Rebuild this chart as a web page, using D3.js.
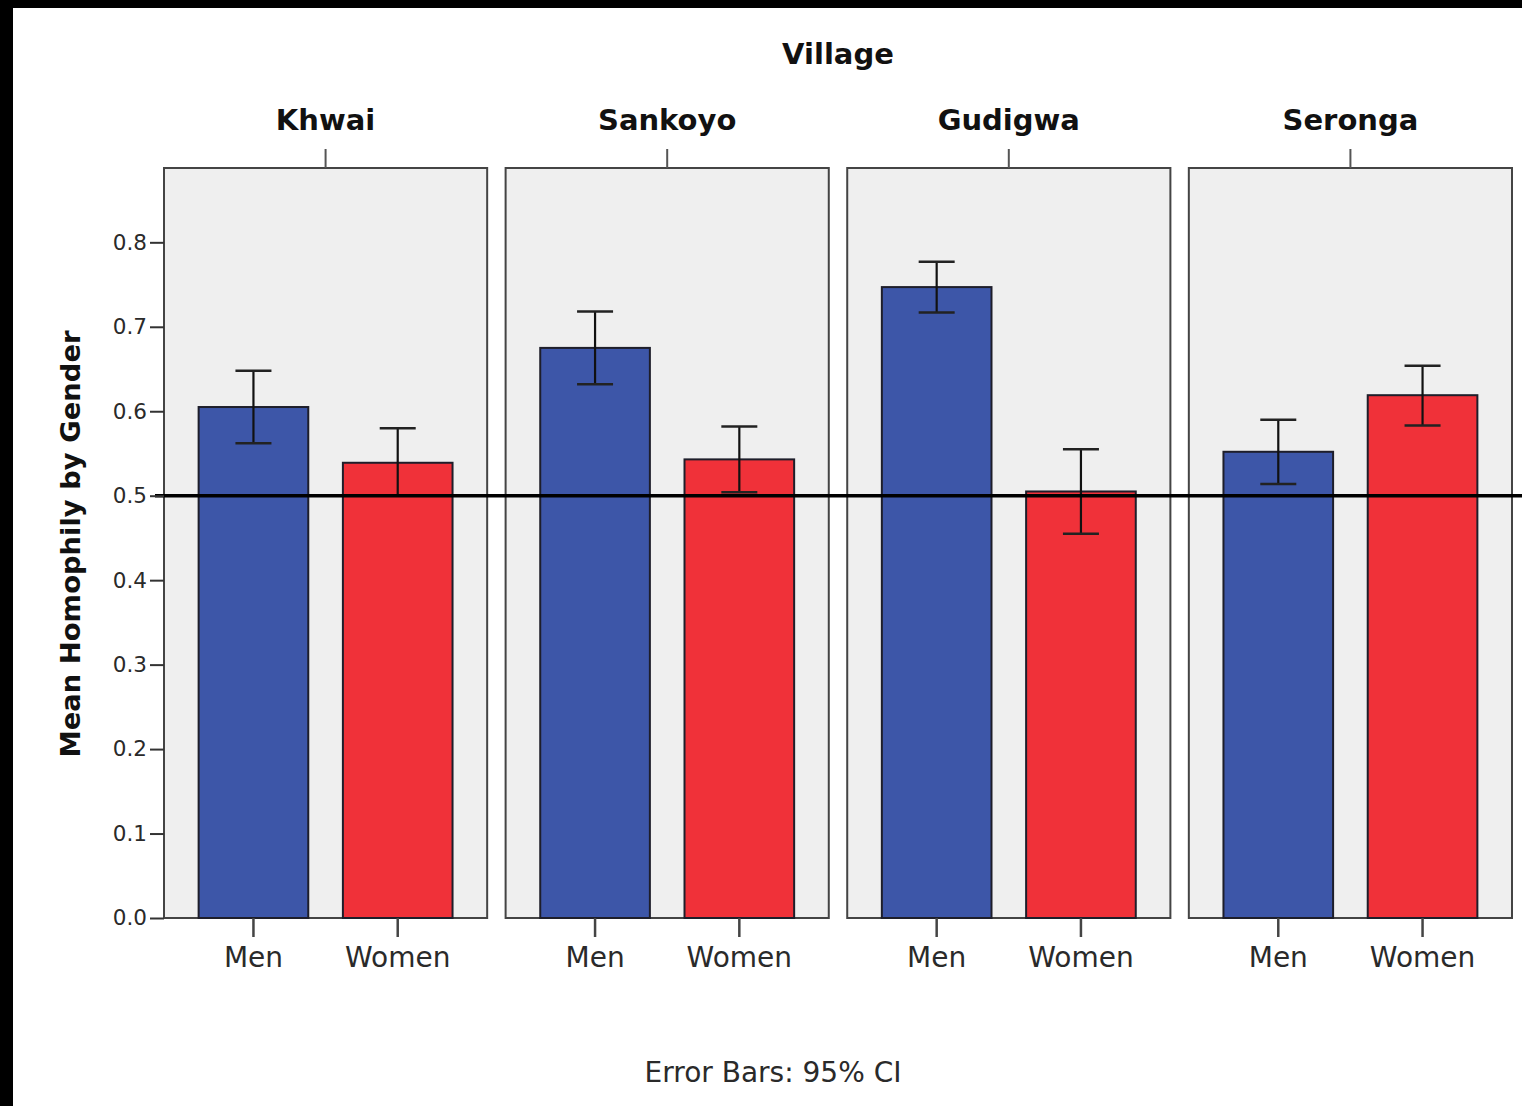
<!DOCTYPE html>
<html>
<head>
<meta charset="utf-8">
<script src="https://cdn.jsdelivr.net/npm/d3@7"></script>
<style>
  html, body { margin: 0; padding: 0; background: #fff; }
  svg { display: block; }
</style>
</head>
<body>
<svg id="chart" width="1522" height="1106"></svg>
<script>
// Mean homophily by gender, faceted by village, with 95% CI error bars
const villages = ["Khwai", "Sankoyo", "Gudigwa", "Seronga"];
const genders = ["Men", "Women"];
const menMean    = [0.605, 0.675, 0.747, 0.552];
const menLow     = [0.562, 0.632, 0.717, 0.514];
const menHigh    = [0.648, 0.718, 0.777, 0.590];
const womenMean  = [0.539, 0.543, 0.505, 0.619];
const womenLow   = [0.500, 0.504, 0.455, 0.583];
const womenHigh  = [0.580, 0.582, 0.555, 0.654];
const yTicks = [0.0, 0.1, 0.2, 0.3, 0.4, 0.5, 0.6, 0.7, 0.8];
const yMax = 0.888;
const referenceValue = 0.5;
const colors = { Men: "#3d56a8", Women: "#f03139" };

const rows = [];
villages.forEach((v, i) => {
  rows.push({ village: v, gender: "Men", mean: menMean[i], lo: menLow[i], hi: menHigh[i] });
  rows.push({ village: v, gender: "Women", mean: womenMean[i], lo: womenLow[i], hi: womenHigh[i] });
});

const svg = d3.select("#chart");
const font = "'DejaVu Sans', Verdana, sans-serif";

const y = d3.scaleLinear().domain([0, yMax]).range([918, 168]);
const fx = d3.scaleBand().domain(villages).range([164, 1512]).paddingInner(0.054).paddingOuter(0);
const x = d3.scaleBand().domain(genders).range([0, fx.bandwidth()]).paddingInner(0.24).paddingOuter(0.24);

// frame edges
svg.append("rect").attr("x", 0).attr("y", 0).attr("width", 1522).attr("height", 8).attr("fill", "#000");
svg.append("rect").attr("x", 0).attr("y", 0).attr("width", 13).attr("height", 1106).attr("fill", "#000");

// overall facet title
svg.append("text")
  .attr("x", 838).attr("y", 64)
  .attr("text-anchor", "middle")
  .attr("font-family", font).attr("font-weight", "bold").attr("font-size", 29)
  .attr("fill", "#111")
  .text("Village");

const panels = svg.selectAll("g.panel").data(villages).join("g")
  .attr("class", "panel")
  .attr("transform", d => `translate(${fx(d)},0)`);

// panel background
panels.append("rect")
  .attr("x", 0).attr("y", y(yMax))
  .attr("width", fx.bandwidth()).attr("height", y(0) - y(yMax))
  .attr("fill", "#efefef").attr("stroke", "#444").attr("stroke-width", 2);

// facet labels with top ticks
panels.append("line")
  .attr("x1", fx.bandwidth() / 2).attr("x2", fx.bandwidth() / 2)
  .attr("y1", y(yMax) - 19).attr("y2", y(yMax))
  .attr("stroke", "#555").attr("stroke-width", 2);
panels.append("text")
  .attr("x", fx.bandwidth() / 2).attr("y", 130)
  .attr("text-anchor", "middle")
  .attr("font-family", font).attr("font-weight", "bold").attr("font-size", 29)
  .attr("fill", "#111")
  .text(d => d);

// bars
panels.selectAll("rect.bar")
  .data(v => rows.filter(r => r.village === v))
  .join("rect")
  .attr("class", "bar")
  .attr("x", d => x(d.gender))
  .attr("y", d => y(d.mean))
  .attr("width", x.bandwidth())
  .attr("height", d => y(0) - y(d.mean))
  .attr("fill", d => colors[d.gender])
  .attr("stroke", "#1e1e2a").attr("stroke-width", 2);

// bottom category axis
panels.each(function () {
  const g = d3.select(this).append("g").attr("transform", `translate(0,${y(0)})`);
  const ax = d3.axisBottom(x).tickSize(19).tickSizeOuter(0).tickPadding(10);
  g.call(ax);
  g.select(".domain").remove();
  g.selectAll(".tick line").attr("stroke", "#444").attr("stroke-width", 2.5);
  g.selectAll(".tick text")
    .attr("font-family", font).attr("font-size", 28).attr("fill", "#2a2a2a")
    .attr("dy", "0.71em");
});

// reference line
svg.append("line")
  .attr("x1", 155).attr("x2", 1522)
  .attr("y1", y(referenceValue)).attr("y2", y(referenceValue))
  .attr("stroke", "#000").attr("stroke-width", 3.5);

// error bars
const capHalf = 18;
const eb = panels.selectAll("g.err")
  .data(v => rows.filter(r => r.village === v))
  .join("g").attr("class", "err")
  .attr("transform", d => `translate(${x(d.gender) + x.bandwidth() / 2},0)`);
eb.append("line")
  .attr("x1", 0).attr("x2", 0)
  .attr("y1", d => y(d.hi)).attr("y2", d => y(d.lo))
  .attr("stroke", "#111").attr("stroke-width", 2.2);
eb.append("line")
  .attr("x1", -capHalf).attr("x2", capHalf)
  .attr("y1", d => y(d.hi)).attr("y2", d => y(d.hi))
  .attr("stroke", "#222").attr("stroke-width", 2.5);
eb.append("line")
  .attr("x1", -capHalf).attr("x2", capHalf)
  .attr("y1", d => y(d.lo)).attr("y2", d => y(d.lo))
  .attr("stroke", "#222").attr("stroke-width", 2.5);

// left value axis
const yAxisG = svg.append("g").attr("transform", "translate(164,0)");
yAxisG.call(d3.axisLeft(y).tickValues(yTicks).tickFormat(d3.format(".1f")).tickSize(14).tickSizeOuter(0).tickPadding(3));
yAxisG.select(".domain").remove();
yAxisG.selectAll(".tick line").attr("stroke", "#333").attr("stroke-width", 2);
yAxisG.selectAll(".tick text")
  .attr("font-family", font).attr("font-size", 21.5).attr("fill", "#2a2a2a");

// axis title
svg.append("text")
  .attr("transform", "translate(80,544) rotate(-90)")
  .attr("text-anchor", "middle")
  .attr("font-family", font).attr("font-weight", "bold").attr("font-size", 27.4)
  .attr("fill", "#111")
  .text("Mean Homophily by Gender");

// footnote
svg.append("text")
  .attr("x", 773).attr("y", 1082)
  .attr("text-anchor", "middle")
  .attr("font-family", font).attr("font-size", 28).attr("fill", "#2a2a2a")
  .text("Error Bars: 95% CI");
</script>
</body>
</html>
